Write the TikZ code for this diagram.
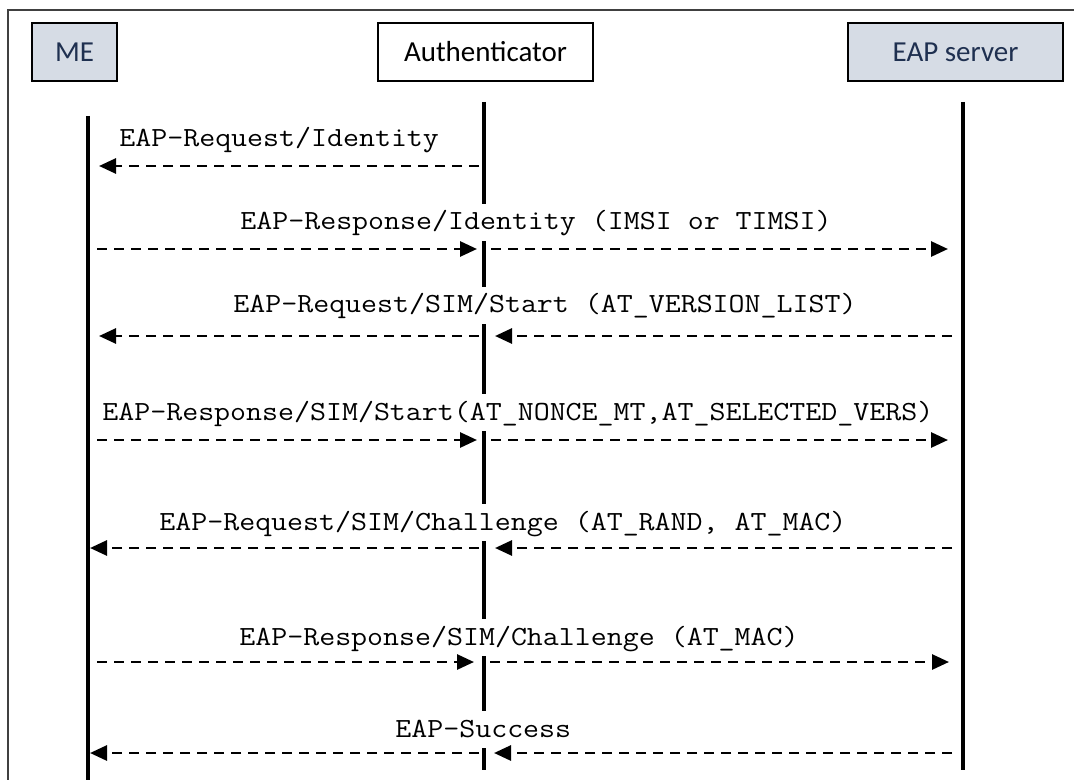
\documentclass[tikz,border=0pt]{standalone}
\usepackage{fontspec}
\usepackage{xcolor}
\usetikzlibrary{arrows.meta}
\usetikzlibrary{positioning}
\newfontfamily\boxfont{Carlito}
\newfontfamily\msgfont[FakeStretch=1.12]{Latin Modern Mono}
\definecolor{boxgray}{HTML}{D6DCE5}
\definecolor{boxtext}{HTML}{1F3050}

\begin{document}
\begin{tikzpicture}[x=0.5pt, y=-0.5pt,
    actor/.style={draw, line width=1.2pt, minimum height=29pt, inner sep=0pt, font=\boxfont\fontsize{14.5}{17}\selectfont},
    life/.style={line width=1.9pt},
    lbl/.style={fill=white, inner sep=0pt, text height=13pt, text depth=5.5pt, anchor=base west, font=\msgfont\fontsize{13.85}{16}\selectfont},
    msg/.style={dash pattern=on 5pt off 3.5pt, line width=1.4pt, -{Triangle[length=8.5pt,width=7.5pt]}}]
    \useasboundingbox (0,0) rectangle (1074,780);
    \draw[black!75, line width=0.8pt] (8,780) -- (8,10) -- (1074,10);

    % actors
    \node[actor, fill=boxgray, text=boxtext, minimum width=42.5pt] (me) at (74.5,52) {ME};
    \node[actor, fill=white, minimum width=107.5pt] (auth) at (485.5,52) {Authenticator};
    \node[actor, fill=boxgray, text=boxtext, minimum width=107.5pt] (eap) at (955.5,52) {EAP server};

    % lifelines
    \coordinate (meTop) at (88,116);
    \coordinate (meEnd) at (88,780);
    \coordinate (auTop) at (484,102);
    \coordinate (auEnd) at (484,770);
    \coordinate (eaTop) at (963,102);
    \coordinate (eaEnd) at (963,770);
    \draw[life] (meTop) -- (meEnd);
    \draw[life] (auTop) -- (auEnd);
    \draw[life] (eaTop) -- (eaEnd);

    \foreach \r/\y in {1/166,2/249,3/336,4/440,5/548,6/662,7/753} {
      \coordinate (me\r) at (88,\y);
      \coordinate (au\r) at (484,\y);
      \coordinate (ea\r) at (963,\y);
    }

    % labels
    \node[lbl] (l1) at (119,147) {EAP-Request/Identity};
    \node[lbl] (l2) at (240,230) {EAP-Response/Identity (IMSI or TIMSI)};
    \node[lbl] (l3) at (233,313) {EAP-Request/SIM/Start (AT\_VERSION\_LIST)};
    \node[lbl] (l4) at (102,420) {EAP-Response/SIM/Start(AT\_NONCE\_MT,AT\_SELECTED\_VERS)};
    \node[lbl] (l5) at (159,530) {EAP-Request/SIM/Challenge (AT\_RAND, AT\_MAC)};
    \node[lbl] (l6) at (239,645) {EAP-Response/SIM/Challenge (AT\_MAC)};
    \node[lbl] (l7) at (395,737) {EAP-Success};

    % messages
    \draw[msg, shorten <=2.5pt, shorten >=5.5pt] (au1) -- (me1);
    \draw[msg, shorten <=4.5pt, shorten >=3.5pt] (me2) -- (au2);
    \draw[msg, shorten <=3.5pt, shorten >=7.5pt] (au2) -- (ea2);
    \draw[msg, shorten <=5.5pt, shorten >=5.5pt] (ea3) -- (au3);
    \draw[msg, shorten <=2.5pt, shorten >=5.5pt] (au3) -- (me3);
    \draw[msg, shorten <=4.5pt, shorten >=3.5pt] (me4) -- (au4);
    \draw[msg, shorten <=3.5pt, shorten >=7.5pt] (au4) -- (ea4);
    \draw[msg, shorten <=5.5pt, shorten >=5.5pt] (ea5) -- (au5);
    \draw[msg, shorten <=2.5pt, shorten >=1pt] (au5) -- (me5);
    \draw[msg, shorten <=4.5pt, shorten >=5pt] (me6) -- (au6);
    \draw[msg, shorten <=3pt, shorten >=7pt] (au6) -- (ea6);
    \draw[msg, shorten <=5.5pt, shorten >=5pt] (ea7) -- (au7);
    \draw[msg, shorten <=2.5pt, shorten >=1pt] (au7) -- (me7);
\end{tikzpicture}
\end{document}
